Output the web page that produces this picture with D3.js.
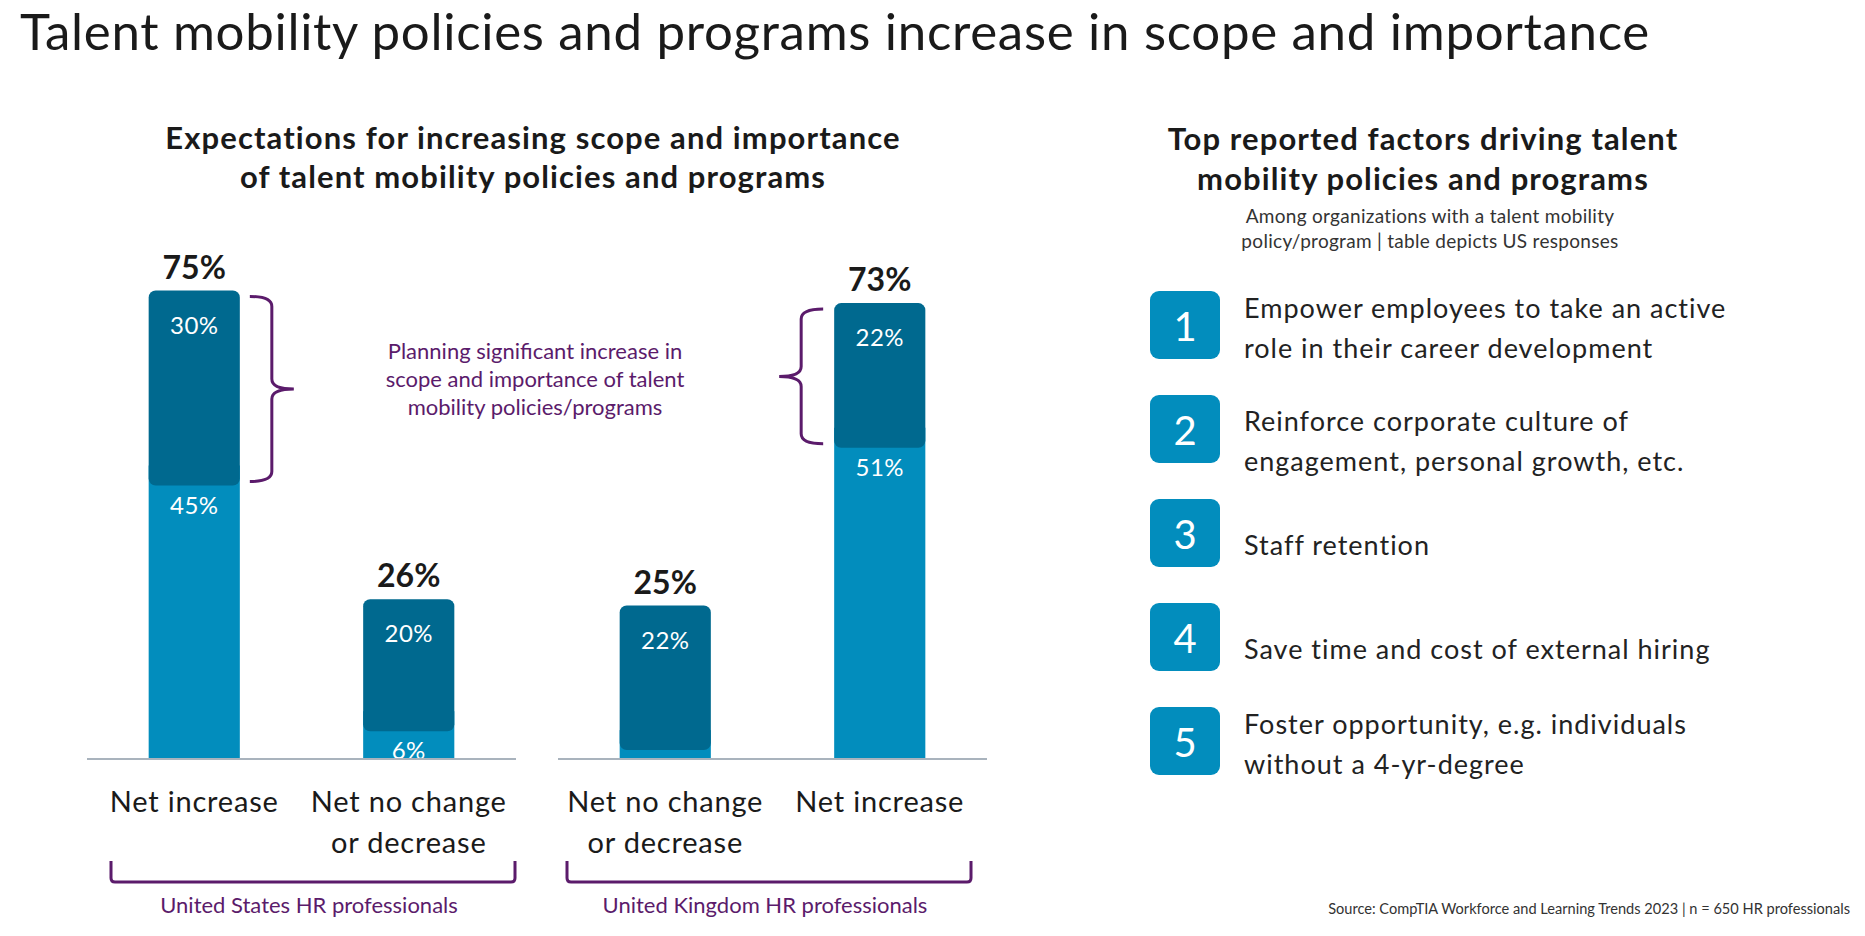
<!DOCTYPE html>
<html>
<head>
<meta charset="utf-8">
<script src="https://cdn.jsdelivr.net/npm/d3@7"></script>
<style>
  body { margin: 0; background: #fff; }
  svg { display: block; font-family: Lato, "Open Sans", sans-serif; }
</style>
</head>
<body>
<svg id="chart" width="1865" height="936"></svg>
<script>
// Data
const groups = ["United States HR professionals", "United Kingdom HR professionals"];
const barGroup = ["US", "US", "UK", "UK"];
const barLabels = [["Net increase"], ["Net no change", "or decrease"], ["Net no change", "or decrease"], ["Net increase"]];
const significant = [30, 20, 22, 22];   // dark part of each bar
const moderate = [45, 6, 3, 51];        // light part of each bar
const totals = [75, 26, 25, 73];
const factors = [
  ["Empower employees to take an active", "role in their career development"],
  ["Reinforce corporate culture of", "engagement, personal growth, etc."],
  ["Staff retention"],
  ["Save time and cost of external hiring"],
  ["Foster opportunity, e.g. individuals", "without a 4-yr-degree"]
];

const width = 1865;
const axisY = 759;
const dark = "#00698f";
const light = "#028dbd";
const purple = "#5b1b6b";
const ink = "#1a1a1a";

const svg = d3.select("#chart");

// Page title
svg.append("text")
  .attr("x", 20).attr("y", 50)
  .attr("font-size", 51).attr("letter-spacing", 0.7)
  .attr("fill", ink)
  .text("Talent mobility policies and programs increase in scope and importance");

// Left chart title
const leftTitle = svg.append("text")
  .attr("text-anchor", "middle")
  .attr("font-size", 31).attr("font-weight", 700).attr("letter-spacing", 1.1).attr("fill", ink);
["Expectations for increasing scope and importance", "of talent mobility policies and programs"]
  .forEach((t, i) => leftTitle.append("tspan").attr("x", 533).attr("y", 149 + i * 39).text(t));

// Scales
const gScale = d3.scaleBand().domain(["US", "UK"]).range([87, 987]).paddingInner(0.0892);
const inner = d3.scaleBand().domain([0, 1]).range([0, gScale.bandwidth()])
  .paddingInner(0.575).paddingOuter(0.2875);
const yScale = d3.scaleLinear().domain([0, 100]).range([axisY, axisY - 630]);

const bars = totals.map((t, i) => ({
  i, group: barGroup[i], total: t, sig: significant[i], mod: moderate[i], label: barLabels[i],
  x: gScale(barGroup[i]) + inner(barGroup.slice(0, i).filter(g => g === barGroup[i]).length)
}));
const bw = inner.bandwidth();
const overlap = 10;

svg.append("defs").append("clipPath").attr("id", "plotClip")
  .append("rect").attr("x", 0).attr("y", 0).attr("width", width).attr("height", axisY);

const plot = svg.append("g").attr("clip-path", "url(#plotClip)");

// Light (moderate) segment
plot.selectAll(".light").data(bars).enter().append("rect")
  .attr("class", "light")
  .attr("x", d => d.x).attr("width", bw)
  .attr("y", d => yScale(d.mod) - overlap)
  .attr("height", d => axisY - yScale(d.mod) + overlap + 2)
  .attr("fill", light);

// Dark (significant) segment, rounded
plot.selectAll(".dark").data(bars).enter().append("rect")
  .attr("class", "dark")
  .attr("x", d => d.x).attr("width", bw)
  .attr("y", d => yScale(d.total) + 4)
  .attr("height", d => yScale(d.mod) + overlap - yScale(d.total) - 4)
  .attr("rx", 7)
  .attr("fill", dark);

// Segment labels
plot.selectAll(".sigLabel").data(bars).enter().append("text")
  .attr("x", d => d.x + bw / 2).attr("y", d => yScale(d.total) + 47)
  .attr("text-anchor", "middle").attr("font-size", 24).attr("letter-spacing", 0.4).attr("fill", "#fff")
  .text(d => d.sig + "%");
plot.selectAll(".modLabel").data(bars).enter().append("text")
  .attr("x", d => d.x + bw / 2).attr("y", d => yScale(d.mod) + overlap + 28)
  .attr("text-anchor", "middle").attr("font-size", 24).attr("letter-spacing", 0.4).attr("fill", "#fff")
  .text(d => d.mod + "%");

// Totals
svg.selectAll(".total").data(bars).enter().append("text")
  .attr("x", d => d.x + bw / 2).attr("y", d => yScale(d.total) - 8)
  .attr("text-anchor", "middle").attr("font-size", 32).attr("font-weight", 700).attr("fill", ink)
  .text(d => d.total + "%");

// Baselines
svg.selectAll(".axis").data(["US", "UK"]).enter().append("line")
  .attr("x1", d => gScale(d))
  .attr("x2", d => gScale(d) + gScale.bandwidth())
  .attr("y1", axisY).attr("y2", axisY)
  .attr("stroke", "#a9b3bd").attr("stroke-width", 2);

// Category labels
bars.forEach(d => {
  const t = svg.append("text")
    .attr("text-anchor", "middle").attr("font-size", 29).attr("letter-spacing", 0.8).attr("fill", ink);
  d.label.forEach((l, k) => t.append("tspan").attr("x", d.x + bw / 2).attr("y", 812 + k * 41).text(l));
});

// Group brackets and labels
const bracketStart = { US: 24, UK: 9 };
const bracketWidth = 404;
["US", "UK"].forEach((g, i) => {
  const x0 = gScale(g) + bracketStart[g], x1 = x0 + bracketWidth;
  const yT = 861, yB = 882, r = 4;
  svg.append("path")
    .attr("d", `M${x0},${yT} L${x0},${yB - r} Q${x0},${yB} ${x0 + r},${yB} L${x1 - r},${yB} Q${x1},${yB} ${x1},${yB - r} L${x1},${yT}`)
    .attr("fill", "none").attr("stroke", purple).attr("stroke-width", 3);
  svg.append("text")
    .attr("x", (x0 + x1) / 2 - 4).attr("y", 913)
    .attr("text-anchor", "middle").attr("font-size", 22).attr("fill", purple)
    .text(groups[i]);
});

// Curly braces around the dark part of the "Net increase" bars
function brace(xEnd, xMid, xTip, y0, y1) {
  const ym = (y0 + y1) / 2, r = 10;
  return `M${xEnd},${y0} Q${xMid},${y0} ${xMid},${y0 + r} L${xMid},${ym - r} Q${xMid},${ym} ${xTip},${ym}` +
    ` Q${xMid},${ym} ${xMid},${ym + r} L${xMid},${y1 - r} Q${xMid},${y1} ${xEnd},${y1}`;
}
[bars[0], bars[3]].forEach((d, k) => {
  const y0 = yScale(d.total) + 10, y1 = yScale(d.mod) + overlap - 4;
  const dir = k === 0 ? 1 : -1;
  const base = k === 0 ? d.x + bw + 10 : d.x - 11;
  svg.append("path")
    .attr("d", brace(base, base + dir * 22, base + dir * 44, y0, y1))
    .attr("fill", "none").attr("stroke", purple).attr("stroke-width", 3);
});

const note = svg.append("text")
  .attr("text-anchor", "middle").attr("font-size", 22).attr("fill", purple);
["Planning significant increase in", "scope and importance of talent", "mobility policies/programs"]
  .forEach((t, i) => note.append("tspan").attr("x", 535).attr("y", 359 + i * 28).text(t));

// Right panel
const rightTitle = svg.append("text")
  .attr("text-anchor", "middle")
  .attr("font-size", 31).attr("font-weight", 700).attr("letter-spacing", 1.1).attr("fill", ink);
["Top reported factors driving talent", "mobility policies and programs"]
  .forEach((t, i) => rightTitle.append("tspan").attr("x", 1423).attr("y", 150 + i * 40).text(t));

const sub = svg.append("text")
  .attr("text-anchor", "middle").attr("font-size", 19).attr("letter-spacing", 0.3).attr("fill", "#333");
["Among organizations with a talent mobility", "policy/program | table depicts US responses"]
  .forEach((t, i) => sub.append("tspan").attr("x", 1430).attr("y", 223 + i * 25).text(t));

const rowScale = d3.scaleLinear().domain([0, 1]).range([291, 395]);
const rows = svg.selectAll(".factor").data(factors).enter().append("g")
  .attr("class", "factor")
  .attr("transform", (d, i) => `translate(1150,${rowScale(i)})`);
rows.append("rect")
  .attr("width", 70).attr("height", 68).attr("rx", 9)
  .attr("fill", light);
rows.append("text")
  .attr("x", 35).attr("y", 50)
  .attr("text-anchor", "middle").attr("font-size", 40).attr("fill", "#fff")
  .text((d, i) => i + 1);
rows.append("text")
  .attr("font-size", 27).attr("letter-spacing", 1).attr("fill", "#222")
  .each(function (d, i) {
    const t = d3.select(this);
    const start = d.length === 1 ? 56 : (i === 1 ? 36 : 27);
    d.forEach((l, k) => t.append("tspan").attr("x", 94).attr("y", start + k * 40).text(l));
  });

// Source
svg.append("text")
  .attr("x", 1850).attr("y", 914)
  .attr("text-anchor", "end").attr("font-size", 14.6).attr("fill", "#333")
  .text("Source: CompTIA Workforce and Learning Trends 2023 | n = 650 HR professionals");
</script>
</body>
</html>
